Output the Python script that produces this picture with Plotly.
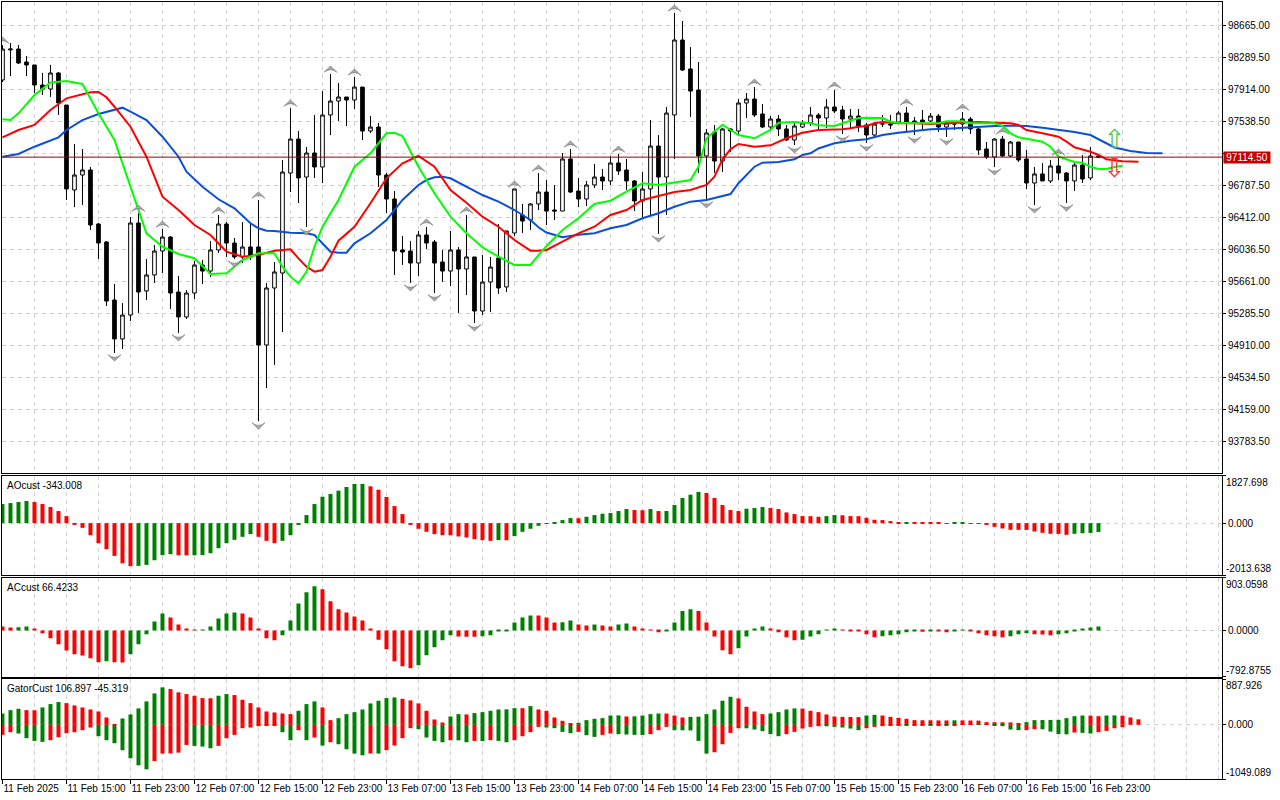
import plotly.graph_objects as go

# ------------------------------------------------------------------ data
time_labels = ["11 Feb 2025", "11 Feb 15:00", "11 Feb 23:00", "12 Feb 07:00", "12 Feb 15:00",
               "12 Feb 23:00", "13 Feb 07:00", "13 Feb 15:00", "13 Feb 23:00", "14 Feb 07:00",
               "14 Feb 15:00", "14 Feb 23:00", "15 Feb 07:00", "15 Feb 15:00", "15 Feb 23:00",
               "16 Feb 07:00", "16 Feb 15:00", "16 Feb 23:00"]
bars_per_label = 8

open_ = [98020, 98372, 98383, 98231, 98196, 97961, 97914, 98102, 97726, 96729,
         96905, 96964, 96330, 96119, 95438, 94981, 95262, 96342, 95544, 95732,
         96013, 96177, 95532, 95239, 95520, 95849, 95778, 96025, 96330, 96107,
         95943, 96060, 96060, 94910, 95579, 95755, 96928, 97327, 96881, 97163,
         96999, 97609, 97773, 97820, 97785, 97937, 97421, 97468, 96905, 96623,
         96025, 96013, 95872, 96201, 96119, 95884, 95778, 96025, 95802, 95943,
         95309, 95649, 95931, 95591, 96224, 96436, 96377, 96565, 96705, 96494,
         96482, 97093, 96717, 96623, 96788, 96881, 96835, 97046, 96964, 96835,
         96600, 96741, 97245, 96881, 97609, 98489, 98149, 97902, 97128, 97410,
         97069, 97445, 97421, 97750, 97796, 97621, 97468, 97562, 97445, 97316,
         97468, 97515, 97609, 97574, 97703, 97668, 97562, 97597, 97492, 97374,
         97503, 97503, 97527, 97632, 97539, 97550, 97539, 97597, 97468, 97503,
         97503, 97562, 97445, 97210, 97116, 97327, 97128, 97292, 97093, 96811,
         96917, 96835, 97011, 96928, 96835, 97022, 96870, 97128]
high = [98430, 98454, 98430, 98301, 98196, 98102, 98196, 98113, 97726, 97269,
        97210, 96999, 96342, 96130, 95626, 95403, 96412, 96459, 95919, 96084,
        96271, 96189, 95720, 95555, 95896, 95908, 96130, 96436, 96353, 96166,
        96353, 96330, 96612, 95638, 95884, 97081, 97691, 97421, 97233, 97609,
        97890, 98090, 97984, 97820, 98055, 97937, 97597, 97515, 96928, 96717,
        96189, 96130, 96248, 96295, 96142, 96025, 96248, 96060, 96436, 95943,
        95966, 95943, 96330, 96248, 96741, 96565, 96576, 96928, 96846, 96788,
        97163, 97210, 96870, 96835, 97034, 96975, 97128, 97151, 97093, 96846,
        96940, 97550, 97374, 97703, 98806, 98712, 98407, 98231, 97445, 97492,
        97456, 97456, 97796, 97867, 97937, 97738, 97597, 97609, 97492, 97515,
        97550, 97703, 97632, 97796, 97902, 97715, 97679, 97679, 97515, 97527,
        97609, 97609, 97656, 97703, 97586, 97668, 97632, 97621, 97539, 97539,
        97644, 97586, 97456, 97292, 97339, 97363, 97304, 97292, 97198, 96999,
        97046, 97081, 97116, 96940, 97058, 97140, 97233, 97140]
low = [97996, 98067, 98207, 98067, 97867, 97843, 97820, 97609, 96612, 96529,
       96553, 96260, 95919, 95368, 94816, 94863, 95192, 95286, 95438, 95638,
       95755, 95333, 95051, 95215, 95450, 95626, 95708, 95990, 95943, 95919,
       95872, 95908, 94018, 94406, 94675, 95063, 96705, 96576, 96295, 96870,
       96811, 97374, 97539, 97480, 97679, 97316, 97398, 96764, 96459, 95732,
       95849, 95638, 95720, 96037, 95520, 95649, 95602, 95286, 95497, 95168,
       95262, 95297, 95509, 95532, 96189, 96224, 96260, 96494, 96318, 96377,
       96482, 96694, 96529, 96541, 96752, 96729, 96788, 96905, 96729, 96482,
       96412, 96424, 96213, 96436, 97093, 98125, 97586, 96928, 96612, 96928,
       96940, 97175, 97374, 97574, 97586, 97456, 97433, 97363, 97304, 97257,
       97456, 97480, 97445, 97456, 97632, 97386, 97445, 97410, 97280, 97339,
       97468, 97445, 97515, 97421, 97374, 97433, 97527, 97410, 97351, 97433,
       97421, 97386, 97140, 97093, 96999, 97116, 97116, 97058, 96741, 96553,
       96835, 96811, 96846, 96576, 96717, 96811, 96846, 97104]
close = [98383, 98383, 98219, 98196, 97961, 97914, 98102, 97750, 96741, 96905,
         96964, 96318, 96107, 95426, 94981, 95262, 96342, 95532, 95732, 96013,
         96177, 95520, 95239, 95520, 95849, 95778, 96025, 96330, 96107, 95943,
         96060, 95943, 94910, 95579, 95767, 96940, 97327, 96870, 97163, 96999,
         97609, 97773, 97820, 97785, 97937, 97421, 97468, 96905, 96623, 96013,
         96001, 95872, 96201, 96107, 95872, 95778, 96025, 95802, 95943, 95309,
         95649, 95825, 95579, 96248, 96741, 96365, 96565, 96705, 96482, 96482,
         97093, 96705, 96623, 96788, 96881, 96835, 97046, 96952, 96835, 96600,
         96741, 97245, 96881, 97632, 98489, 98137, 97890, 97128, 97398, 97069,
         97445, 97421, 97750, 97796, 97609, 97468, 97562, 97445, 97316, 97480,
         97515, 97609, 97574, 97703, 97656, 97562, 97597, 97480, 97374, 97503,
         97505, 97492, 97632, 97527, 97527, 97527, 97597, 97468, 97515, 97505,
         97562, 97445, 97198, 97116, 97327, 97128, 97292, 97081, 96811, 96917,
         96835, 97011, 96928, 96835, 97022, 96858, 97128, 97114.5]

# Alligator lines (bar index, price), already shifted forward
lips_x = [0, 1, 2, 4, 6, 8, 10, 12, 14, 16, 18, 20, 22, 24, 26, 28, 30, 32, 34, 35,
          36, 37, 38, 39, 40, 42, 44, 46, 48, 49, 50, 52, 54, 56, 58, 60, 62, 64, 66, 67,
          68, 70, 72, 74, 76, 78, 80, 82, 84, 86, 87, 88, 90, 92, 94, 96, 97, 99, 101, 102,
          104, 105, 106, 107, 108, 110, 111, 112, 114, 117, 118, 120, 121, 124, 125, 126, 127, 128, 130, 131,
          132, 133, 134, 135, 136, 137, 138, 139, 140]
lips_y = [97558, 97550, 97629, 97843, 97990, 98008, 97973, 97629, 97316, 96768,
          96221, 96064, 95978, 95928, 95743, 95751, 95908, 95986, 95986, 95829,
          95712, 95634, 95770, 96064, 96298, 96612, 97002, 97160, 97394, 97401,
          97363, 97002, 96690, 96416, 96221, 96057, 95946, 95849, 95849, 95966,
          96072, 96260, 96397, 96565, 96603, 96709, 96808, 96788, 96815, 96846,
          97002, 97336, 97495, 97374, 97336, 97433, 97519, 97527, 97512, 97488,
          97480, 97512, 97542, 97574, 97577, 97574, 97530, 97519, 97512, 97512,
          97535, 97535, 97512, 97512, 97480, 97394, 97347, 97331, 97296, 97237,
          97120, 97089, 97057, 97049, 97002, 96975, 96975, 96999, 97014]
teeth_x = [0, 2, 4, 6, 8, 10, 11, 12, 13, 14, 16, 18, 20, 22, 24, 26, 28, 30, 32, 34,
           35, 36, 37, 38, 39, 40, 41, 42, 44, 46, 48, 50, 52, 54, 56, 58, 60, 62, 64, 66,
           67, 68, 70, 72, 74, 76, 78, 80, 82, 84, 86, 88, 89, 90, 91, 92, 94, 96, 98, 100,
           102, 103, 105, 106, 107, 108, 109, 110, 112, 114, 116, 118, 120, 122, 124, 126, 127, 128, 130, 132,
           133, 134, 136, 137, 138, 139, 140, 142]
teeth_y = [97347, 97433, 97492, 97668, 97805, 97855, 97875, 97879, 97817, 97706,
           97472, 97120, 96650, 96494, 96318, 96201, 96005, 95946, 95966, 96017,
           96025, 96033, 95927, 95829, 95770, 95790, 95946, 96134, 96298, 96573,
           96866, 97042, 97128, 97002, 96729, 96580, 96416, 96298, 96142, 96017,
           96017, 96025, 96122, 96221, 96298, 96436, 96494, 96612, 96659, 96705,
           96729, 96788, 96885, 97089, 97207, 97269, 97237, 97253, 97336, 97401,
           97433, 97433, 97441, 97453, 97472, 97480, 97512, 97527, 97512, 97512,
           97503, 97512, 97519, 97527, 97519, 97512, 97492, 97433, 97394, 97354,
           97296, 97230, 97178, 97140, 97089, 97075, 97067, 97061]
jaw_x = [0, 2, 4, 6, 7, 8, 10, 12, 14, 15, 16, 18, 20, 22, 23, 25, 27, 29, 31, 32,
         33, 34, 36, 38, 39, 40, 41, 42, 43, 44, 46, 48, 50, 52, 53, 54, 55, 56, 58, 60,
         62, 64, 66, 67, 68, 70, 72, 74, 76, 78, 80, 82, 84, 86, 88, 90, 91, 92, 94, 95,
         97, 99, 100, 101, 102, 104, 106, 108, 110, 112, 114, 116, 118, 120, 122, 124, 126, 128, 130, 132,
         134, 136, 137, 139, 141, 143, 145]
jaw_y = [97120, 97151, 97237, 97307, 97347, 97433, 97550, 97621, 97676, 97695,
         97648, 97550, 97354, 97120, 96944, 96768, 96620, 96514, 96338, 96280,
         96251, 96248, 96228, 96221, 96201, 96103, 96005, 95993, 95993, 96103,
         96221, 96377, 96612, 96788, 96846, 96878, 96885, 96866, 96768, 96670,
         96592, 96494, 96377, 96291, 96230, 96174, 96204, 96221, 96280, 96318,
         96397, 96456, 96533, 96592, 96612, 96659, 96682, 96808, 97002, 97049,
         97057, 97089, 97140, 97160, 97216, 97277, 97307, 97324, 97374, 97401,
         97421, 97441, 97448, 97460, 97472, 97480, 97484, 97480, 97460, 97433,
         97410, 97374, 97327, 97228, 97187, 97163, 97160]

fractal_up = [0, 17, 20, 27, 32, 36, 41, 44, 53, 58, 64, 67, 71, 77, 84, 94, 104, 113, 120, 125, 132]
fractal_down = [14, 22, 29, 32, 38, 51, 54, 59, 82, 88, 99, 105, 108, 114, 118, 124, 129, 133]

signal_bar = [139]
signal_up_price = [97300]
signal_down_price = [96960]

price_ticks = [93783.5, 94159.0, 94534.5, 94910.0, 95285.5, 95661.0, 96036.5, 96412.0,
               96787.5, 97163.0, 97538.5, 97914.0, 98289.5, 98665.0]
price_range = [93408, 98935]

ao_scale = [-2013.638, 1827.698]
ao_before = 700
ao = [739, 778, 817, 856, 817, 739, 623, 467, 272, -39,
      -182, -467, -778, -1012, -1271, -1556, -1670, -1660, -1621, -1440,
      -1245, -1206, -1245, -1250, -1247, -1240, -1167, -973, -778, -649,
      -532, -428, -532, -687, -778, -687, -467, -39, 311, 739,
      1025, 1128, 1258, 1401, 1518, 1522, 1427, 1297, 1012, 661,
      350, -39, -220, -337, -428, -467, -470, -519, -558, -623,
      -661, -687, -661, -665, -506, -337, -220, -104, -26, 8,
      117, 195, 190, 246, 311, 363, 389, 467, 545, 506,
      500, 545, 467, 470, 700, 973, 1102, 1206, 1167, 973,
      700, 506, 467, 558, 584, 623, 584, 545, 415, 350,
      272, 268, 246, 272, 311, 305, 272, 268, 207, 130,
      117, 78, 39, 42, 38, 36, 34, 26, 5, 39,
      42, -5, -10, -65, -143, -208, -259, -262, -265, -324,
      -376, -415, -420, -454, -415, -392, -380, -343.008]

ac_scale = [-792.8755, 903.0598]
ac_before = 85
ac = [68, 50, 53, 68, 34, -46, -131, -234, -343, -405,
      -428, -474, -542, -525, -542, -545, -405, -234, -63, 154,
      291, 223, 103, 17, 3, 5, 68, 206, 291, 308,
      291, 223, 34, -131, -166, -80, 171, 462, 651, 754,
      702, 497, 360, 308, 240, 171, 17, -160, -320, -525,
      -611, -645, -594, -422, -285, -166, -80, -103, -105, -108,
      -97, -80, -11, -3, 137, 223, 257, 254, 223, 137,
      140, 171, 103, 86, 103, 86, 68, 103, 120, 68,
      17, 14, -29, -17, 137, 331, 360, 331, 137, -103,
      -337, -405, -303, -103, 34, 68, 34, -29, -114, -166,
      -160, -103, -63, 2, 34, 11, -2, -17, -63, -114,
      -97, -80, -63, -29, -17, -20, -2, -17, -29, -3,
      1, -1, -46, -80, -97, -114, -97, -63, -46, -63,
      -69, -80, -63, -46, -17, 17, 51, 66.4233]

gator_scale = [-1049.089, 887.926]
gator_up_before = 200
gator_down_before = -200
gator_up = [220, 285, 311, 285, 283, 337, 402, 441, 421, 376,
            337, 298, 259, 143, 13, 123, 201, 318, 454, 609,
            726, 693, 629, 596, 564, 518, 515, 564, 596, 577,
            486, 421, 337, 259, 240, 220, 207, 272, 402, 454,
            337, 91, 130, 207, 246, 298, 415, 467, 518, 531,
            505, 473, 415, 272, 104, 45, 162, 207, 201, 227,
            246, 272, 298, 300, 324, 322, 363, 298, 272, 143,
            78, 26, 39, 91, 117, 130, 181, 183, 162, 165,
            181, 207, 220, 218, 181, 143, 155, 158, 207, 298,
            467, 544, 512, 350, 259, 207, 220, 246, 298, 318,
            316, 272, 246, 201, 162, 155, 153, 150, 181, 194,
            181, 155, 136, 117, 91, 89, 88, 86, 85, 88,
            86, 84, 82, 52, 50, 49, 47, 26, 52, 91,
            93, 95, 97, 130, 168, 181, 179, 168, 181, 183,
            178, 143, 106.897]
gator_down = [-194, -143, -168, -259, -311, -330, -298, -240, -162, -143,
              -104, -52, -220, -298, -356, -492, -648, -784, -862, -700,
              -557, -554, -538, -389, -408, -421, -454, -408, -259, -194,
              -65, -52, -26, -13, -6, -143, -298, -104, -298, -246,
              -402, -337, -376, -473, -557, -590, -554, -557, -492, -402,
              -259, -65, -84, -246, -311, -337, -298, -300, -337, -311,
              -313, -298, -311, -337, -298, -220, -143, -39, -52, -65,
              -136, -162, -136, -201, -233, -194, -168, -181, -188, -194,
              -196, -181, -104, -39, -104, -106, -108, -311, -557, -531,
              -376, -156, -65, -67, -91, -123, -181, -220, -181, -136,
              -71, -39, -26, -28, -39, -52, -71, -104, -65, -39,
              -26, -13, -6, -7, -6, -5, -6, -5, -6, -5,
              -3, -2, -3, -2, -6, -26, -91, -104, -102, -84,
              -86, -130, -181, -183, -149, -155, -168, -143, -117, -65,
              -45.319]

# ------------------------------------------------------------------ style
FONT = "Liberation Sans"
FS = 10
GRID = "#d2d2d2"
DASH = "4px,4px"
GREEN_BAR = "#008000"
RED_BAR = "#ff0000"
X_RANGE = [-0.06, 152.44]
FRACTAL_GAP = 95

n = len(close)
idx = list(range(n))
label_pos = [bars_per_label * k for k in range(len(time_labels))]
current = close[-1]


def trend_colors(vals, before, magnitude=False):
    out = []
    prev = before
    for v in vals:
        a, b = (abs(v), abs(prev)) if magnitude else (v, prev)
        out.append(GREEN_BAR if a > b else RED_BAR)
        prev = v
    return out


fig = go.Figure()

# main price panel
fig.add_trace(go.Candlestick(
    x=idx, open=open_, high=high, low=low, close=close,
    increasing=dict(line=dict(color="black", width=1), fillcolor="white"),
    decreasing=dict(line=dict(color="black", width=1), fillcolor="black"),
    whiskerwidth=0, xaxis="x", yaxis="y", hoverinfo="skip"))

for xs, ys, col in [(jaw_x, jaw_y, "#0b4fd8"), (teeth_x, teeth_y, "#ff0000"), (lips_x, lips_y, "#00ff00")]:
    fig.add_trace(go.Scatter(x=xs, y=ys, mode="lines", line=dict(color=col, width=2),
                             xaxis="x", yaxis="y", hoverinfo="skip"))

fig.add_trace(go.Scatter(
    x=fractal_up, y=[high[i] + FRACTAL_GAP for i in fractal_up], mode="markers",
    marker=dict(symbol="arrow-wide", angle=0, size=9, color="#a9a9a9", line=dict(color="#6a6a6a", width=0.6)),
    xaxis="x", yaxis="y", hoverinfo="skip"))
fig.add_trace(go.Scatter(
    x=fractal_down, y=[low[i] - FRACTAL_GAP for i in fractal_down], mode="markers",
    marker=dict(symbol="arrow-wide", angle=180, size=9, color="#a9a9a9", line=dict(color="#6a6a6a", width=0.6)),
    xaxis="x", yaxis="y", hoverinfo="skip"))

fig.add_trace(go.Scatter(x=signal_bar, y=signal_up_price, mode="text", text=["\u21e7"],
                         textfont=dict(family="DejaVu Sans", size=26, color="#4cc84c"),
                         xaxis="x", yaxis="y", hoverinfo="skip"))
fig.add_trace(go.Scatter(x=signal_bar, y=signal_down_price, mode="text", text=["\u21e9"],
                         textfont=dict(family="DejaVu Sans", size=26, color="#ff3030"),
                         xaxis="x", yaxis="y", hoverinfo="skip"))

# indicator panels
fig.add_trace(go.Bar(x=idx, y=ao, marker=dict(color=trend_colors(ao, ao_before), line=dict(width=0)),
                     width=0.5, xaxis="x2", yaxis="y2", hoverinfo="skip"))
fig.add_trace(go.Bar(x=idx, y=ac, marker=dict(color=trend_colors(ac, ac_before), line=dict(width=0)),
                     width=0.5, xaxis="x3", yaxis="y3", hoverinfo="skip"))
fig.add_trace(go.Bar(x=list(range(len(gator_up))), y=gator_up,
                     marker=dict(color=trend_colors(gator_up, gator_up_before, True), line=dict(width=0)),
                     width=0.5, xaxis="x4", yaxis="y4", hoverinfo="skip"))
fig.add_trace(go.Bar(x=list(range(len(gator_down))), y=gator_down,
                     marker=dict(color=trend_colors(gator_down, gator_down_before, True), line=dict(width=0)),
                     width=0.5, xaxis="x4", yaxis="y4", hoverinfo="skip"))


def x_axis(anchor, show_labels):
    d = dict(range=X_RANGE, anchor=anchor, showline=True, mirror=True, linecolor="black", linewidth=1,
             tickmode="array", tickvals=label_pos, ticktext=time_labels, showticklabels=show_labels,
             ticks="outside" if show_labels else "", ticklen=4, tickcolor="black", tickangle=0,
             showgrid=True, gridcolor=GRID, griddash=DASH, gridwidth=1,
             minor=dict(tickmode="linear", tick0=0, dtick=4, showgrid=True, gridcolor=GRID,
                        griddash=DASH, ticks=""),
             zeroline=False, rangeslider=dict(visible=False), fixedrange=True, automargin=False,
             tickfont=dict(family=FONT, size=FS, color="black"))
    if show_labels:
        d["ticklabelposition"] = "outside right"
    return d


def ind_axis(domain, anchor, scale, decimals):
    return dict(domain=domain, anchor=anchor, range=scale, side="right",
                showline=True, mirror=True, linecolor="black", linewidth=1,
                tickmode="array", tickvals=[scale[0], 0, scale[1]],
                ticktext=["", f"{0:.{decimals}f}", ""],
                ticks="outside", ticklen=3, tickcolor="black",
                showgrid=True, gridcolor=GRID, griddash=DASH, zeroline=False, fixedrange=True,
                automargin=False, tickfont=dict(family=FONT, size=FS, color="black"))


fig.update_layout(
    width=1280, height=800,
    margin=dict(l=2, r=58, t=2, b=21, autoexpand=False),
    paper_bgcolor="white", plot_bgcolor="white",
    showlegend=False, hovermode=False, barmode="overlay", boxgap=0.35,
    font=dict(family=FONT, size=FS, color="black"),
    xaxis=x_axis("y", False),
    xaxis2=x_axis("y2", False),
    xaxis3=x_axis("y3", False),
    xaxis4=x_axis("y4", True),
    yaxis=dict(domain=[0.3938, 1.0], anchor="x", range=price_range, side="right",
               showline=True, mirror=True, linecolor="black", linewidth=1,
               tickmode="array", tickvals=price_ticks,
               ticktext=["" if abs(v - current) < 100 else f"{v:.2f}" for v in price_ticks],
               ticks="outside", ticklen=3, tickcolor="black",
               showgrid=True, gridcolor=GRID, griddash=DASH, zeroline=False, fixedrange=True,
               automargin=False, tickfont=dict(family=FONT, size=FS, color="black")),
    yaxis2=ind_axis([0.2625, 0.3900], "x2", ao_scale, 3),
    yaxis3=ind_axis([0.1313, 0.2593], "x3", ac_scale, 4),
    yaxis4=ind_axis([0.0, 0.1287], "x4", gator_scale, 3),
)

# current price line and label
fig.add_shape(type="line", xref="x domain", yref="y", x0=0, x1=1, y0=current, y1=current,
              line=dict(color="#a00000", width=1))
fig.add_annotation(xref="paper", x=1, xanchor="left", xshift=1, yref="y", y=current,
                   text=f"{current:.2f}", showarrow=False, bgcolor="#c80000",
                   font=dict(family=FONT, size=FS, color="white"), width=46, height=11, borderpad=0)

# indicator titles and scale labels
panels = [("y2", f"AOcust {ao[-1]:.3f}", ao_scale, 3),
          ("y3", f"ACcust {ac[-1]:.4f}", ac_scale, 4),
          ("y4", f"GatorCust {gator_up[-1]:.3f} {gator_down[-1]:.3f}", gator_scale, 3)]
for yax, title, scale, dec in panels:
    fig.add_annotation(xref="paper", x=0, xanchor="left", xshift=3, yref=f"{yax} domain", y=1,
                       yanchor="top", yshift=-2, text=title, showarrow=False,
                       font=dict(family=FONT, size=FS, color="black"))
    fig.add_annotation(xref="paper", x=1, xanchor="left", xshift=2, yref=f"{yax} domain", y=1,
                       yanchor="top", yshift=1, text=f"{scale[1]:.{dec}f}", showarrow=False,
                       font=dict(family=FONT, size=FS, color="black"))
    fig.add_annotation(xref="paper", x=1, xanchor="left", xshift=2, yref=f"{yax} domain", y=0,
                       yanchor="bottom", yshift=-1, text=f"{scale[0]:.{dec}f}", showarrow=False,
                       font=dict(family=FONT, size=FS, color="black"))

fig.write_html("out.html", config={"displayModeBar": False},
               post_script="document.body.style.margin='0px';")
